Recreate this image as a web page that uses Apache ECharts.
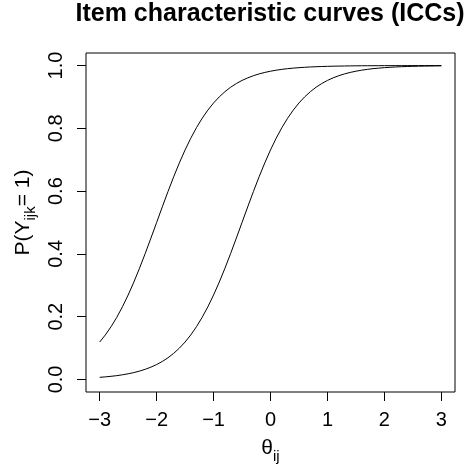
<!DOCTYPE html>
<html>
<head>
<meta charset="utf-8">
<title>Item characteristic curves (ICCs)</title>
<script src="https://cdn.jsdelivr.net/npm/echarts@6/dist/echarts.min.js"></script>
<style>
  html, body { margin: 0; padding: 0; background: #ffffff; }
  #chart { width: 468px; height: 475px; }
</style>
</head>
<body>
<div id="chart"></div>
<script>
// Ability values (theta) at which both curves are sampled
const theta = [
  -3.0, -2.9, -2.8, -2.7, -2.6, -2.5, -2.4, -2.3, -2.2, -2.1,
  -2.0, -1.9, -1.8, -1.7, -1.6, -1.5, -1.4, -1.3, -1.2, -1.1,
  -1.0, -0.9, -0.8, -0.7, -0.6, -0.5, -0.4, -0.3, -0.2, -0.1,
   0.0,  0.1,  0.2,  0.3,  0.4,  0.5,  0.6,  0.7,  0.8,  0.9,
   1.0,  1.1,  1.2,  1.3,  1.4,  1.5,  1.6,  1.7,  1.8,  1.9,
   2.0,  2.1,  2.2,  2.3,  2.4,  2.5,  2.6,  2.7,  2.8,  2.9,
   3.0
];

// Easier item: probability of a correct response
const iccEasy = [
  0.1192, 0.1419, 0.1680, 0.1978, 0.2315, 0.2689, 0.3100, 0.3543, 0.4013, 0.4502,
  0.5000, 0.5498, 0.5987, 0.6457, 0.6900, 0.7311, 0.7685, 0.8022, 0.8320, 0.8581,
  0.8808, 0.9002, 0.9168, 0.9309, 0.9427, 0.9526, 0.9608, 0.9677, 0.9734, 0.9781,
  0.9820, 0.9852, 0.9879, 0.9901, 0.9918, 0.9933, 0.9945, 0.9955, 0.9963, 0.9970,
  0.9975, 0.9980, 0.9983, 0.9986, 0.9989, 0.9991, 0.9993, 0.9994, 0.9995, 0.9996,
  0.9997, 0.9997, 0.9998, 0.9998, 0.9998, 0.9999, 0.9999, 0.9999, 0.9999, 0.9999,
  1.0000
];

// Harder item: probability of a correct response
const iccHard = [
  0.0067, 0.0082, 0.0100, 0.0121, 0.0148, 0.0180, 0.0219, 0.0266, 0.0323, 0.0392,
  0.0474, 0.0573, 0.0691, 0.0832, 0.0998, 0.1192, 0.1419, 0.1680, 0.1978, 0.2315,
  0.2689, 0.3100, 0.3543, 0.4013, 0.4502, 0.5000, 0.5498, 0.5987, 0.6457, 0.6900,
  0.7311, 0.7685, 0.8022, 0.8320, 0.8581, 0.8808, 0.9002, 0.9168, 0.9309, 0.9427,
  0.9526, 0.9608, 0.9677, 0.9734, 0.9781, 0.9820, 0.9852, 0.9879, 0.9901, 0.9918,
  0.9933, 0.9945, 0.9955, 0.9963, 0.9970, 0.9975, 0.9980, 0.9983, 0.9986, 0.9989,
  0.9991
];

// Tick positions and their labels
const xTicks = [-3, -2, -1, 0, 1, 2, 3];
const xTickLabels = ['\u22123', '\u22122', '\u22121', '0', '1', '2', '3'];
const yTicks = [0, 0.2, 0.4, 0.6, 0.8, 1.0];
const yTickLabels = ['0.0', '0.2', '0.4', '0.6', '0.8', '1.0'];

const FONT = '"Liberation Sans", Arial, Helvetica, sans-serif';
const BASE = 20;

function pairs(xs, ys) {
  return xs.map((x, i) => [x, ys[i]]);
}
function labelFor(values, labels) {
  return function (v) {
    for (let i = 0; i < values.length; i++) {
      if (Math.abs(values[i] - v) < 1e-9) return labels[i];
    }
    return '';
  };
}

const chart = echarts.init(document.getElementById('chart'), null, { renderer: 'canvas' });

chart.setOption({
  animation: false,
  backgroundColor: '#ffffff',
  textStyle: { fontFamily: FONT, color: '#000' },
  title: {
    text: 'Item characteristic curves (ICCs)',
    left: 270,
    top: 2,
    textAlign: 'center',
    padding: 0,
    textStyle: { fontFamily: FONT, fontSize: 25, fontWeight: 'bold', color: '#000' }
  },
  grid: {
    left: 86, right: 13, top: 53, bottom: 83,
    show: true, borderColor: '#000', borderWidth: 1,
    backgroundColor: 'transparent',
    containLabel: false
  },
  xAxis: {
    type: 'value',
    min: -3.24, max: 3.24,
    name: '{m|θ}{s|ij}',
    nameLocation: 'middle',
    nameGap: 38,
    nameTextStyle: {
      rich: {
        m: { fontFamily: FONT, fontSize: BASE + 1, color: '#000', lineHeight: 24, verticalAlign: 'top' },
        s: { fontFamily: FONT, fontSize: 15, color: '#000', lineHeight: 15, padding: [14, 0, 0, 0] }
      }
    },
    axisLine: { show: false, onZero: false },
    splitLine: { show: false },
    axisTick: { show: true, inside: false, length: 9, customValues: xTicks, lineStyle: { color: '#000', width: 1 } },
    axisLabel: {
      customValues: xTicks,
      formatter: labelFor(xTicks, xTickLabels),
      fontFamily: FONT, fontSize: BASE, color: '#000', margin: 18
    }
  },
  yAxis: {
    type: 'value',
    min: -0.04, max: 1.04,
    name: '{m|P(Y}{s|ijk}{m|= 1)}',
    nameLocation: 'middle',
    nameRotate: 90,
    nameGap: 48,
    nameTextStyle: {
      padding: [0, 0, 0, 20],
      rich: {
        m: { fontFamily: FONT, fontSize: BASE + 1, color: '#000', lineHeight: 24, verticalAlign: 'top' },
        s: { fontFamily: FONT, fontSize: 15, color: '#000', lineHeight: 15, padding: [12, 0, 0, 0] }
      }
    },
    axisLine: { show: false, onZero: false },
    splitLine: { show: false },
    axisTick: { show: true, inside: false, length: 9, customValues: yTicks, lineStyle: { color: '#000', width: 1 } },
    axisLabel: {
      customValues: yTicks,
      formatter: labelFor(yTicks, yTickLabels),
      rotate: 90,
      fontFamily: FONT, fontSize: BASE, color: '#000', margin: 20
    }
  },
  series: [
    {
      name: 'Easier item',
      type: 'line',
      data: pairs(theta, iccEasy),
      showSymbol: false,
      smooth: false,
      lineStyle: { color: '#000', width: 1 }
    },
    {
      name: 'Harder item',
      type: 'line',
      data: pairs(theta, iccHard),
      showSymbol: false,
      smooth: false,
      lineStyle: { color: '#000', width: 1 }
    }
  ]
});
</script>
</body>
</html>
